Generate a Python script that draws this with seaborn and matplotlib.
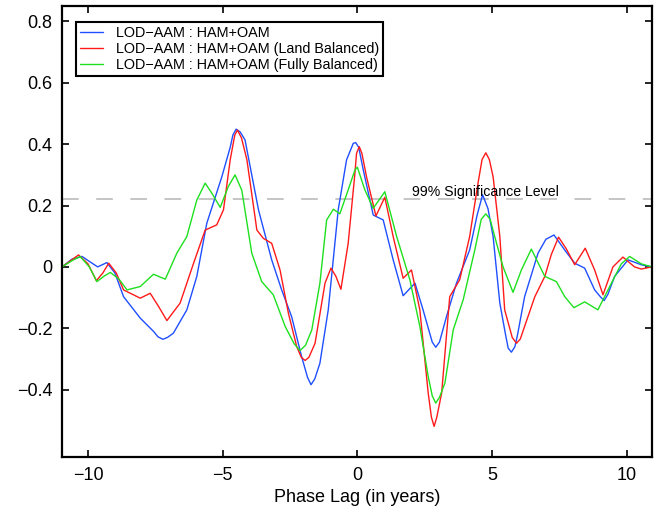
import numpy as np
import pandas as pd
import matplotlib
matplotlib.use('Agg')
import matplotlib.pyplot as plt
import seaborn as sns

blue_x = [-10.96, -10.6, -10.22, -9.9, -9.64, -9.30, -9.0, -8.68, -8.06, -7.57, -7.40, -7.22, -7.05,
          -6.83, -6.33, -5.96, -5.59, -5.03, -4.72, -4.62, -4.50, -4.35, -4.17, -3.67, -3.18, -2.81,
          -2.44, -2.07, -1.85, -1.72, -1.58, -1.39, -1.08, -0.71, -0.40, -0.15, -0.06, 0.05, 0.22,
          0.59, 0.96, 1.33, 1.70, 2.14, 2.44, 2.78, 2.91, 3.05, 3.31, 3.68, 4.17, 4.45, 4.65, 4.85,
          5.04, 5.29, 5.50, 5.60, 5.72, 5.85, 5.95, 6.21, 6.71, 7.0, 7.30, 7.70, 8.07, 8.44, 8.81,
          9.0, 9.16, 9.30, 9.55, 10.05, 10.54, 10.93]
blue_y = [0.0, 0.025, 0.034, 0.015, 0.0, 0.014, -0.02, -0.097, -0.167, -0.21, -0.228, -0.236, -0.23,
          -0.216, -0.14, -0.031, 0.142, 0.294, 0.39, 0.43, 0.449, 0.44, 0.414, 0.186, 0.023, -0.075,
          -0.162, -0.292, -0.36, -0.384, -0.365, -0.314, -0.14, 0.186, 0.349, 0.403, 0.405, 0.39, 0.316,
          0.169, 0.153, 0.023, -0.094, -0.053, -0.14, -0.245, -0.262, -0.245, -0.162, -0.053, 0.055, 0.17,
          0.235, 0.19, 0.099, -0.118, -0.22, -0.265, -0.278, -0.26, -0.22, -0.097, 0.045, 0.09, 0.104,
          0.055, 0.012, -0.004, -0.075, -0.095, -0.11, -0.09, -0.031, 0.023, 0.007, 0.0]

red_x = [-10.96, -10.65, -10.35, -10.0, -9.69, -9.45, -9.23, -8.95, -8.68, -8.06, -7.69, -7.38, -7.07,
         -6.58, -6.08, -5.65, -5.22, -4.97, -4.72, -4.55, -4.45, -4.30, -4.10, -3.73, -3.49, -3.18,
         -2.87, -2.56, -2.25, -2.08, -1.94, -1.80, -1.57, -1.20, -0.98, -0.80, -0.61, -0.34, -0.09,
         -0.03, 0.07, 0.17, 0.34, 0.69, 1.02, 1.33, 1.70, 2.01, 2.32, 2.63, 2.75, 2.85, 2.95, 3.13,
         3.43, 3.80, 4.17, 4.48, 4.63, 4.77, 4.90, 5.04, 5.29, 5.47, 5.75, 5.91, 6.05, 6.21, 6.59,
         6.96, 7.20, 7.47, 7.75, 8.07, 8.46, 8.81, 9.12, 9.49, 9.86, 10.29, 10.54, 10.93]
red_y = [0.0, 0.02, 0.039, 0.01, -0.045, -0.02, 0.012, -0.02, -0.075, -0.102, -0.086, -0.129, -0.175,
         -0.118, 0.012, 0.12, 0.137, 0.186, 0.349, 0.43, 0.446, 0.42, 0.349, 0.12, 0.093, 0.077,
         -0.01, -0.151, -0.26, -0.295, -0.305, -0.295, -0.249, -0.053, -0.004, -0.03, -0.073, 0.077, 0.305,
         0.37, 0.392, 0.37, 0.294, 0.166, 0.227, 0.099, -0.037, -0.01, -0.14, -0.411, -0.49, -0.52, -0.49,
         -0.411, -0.097, -0.042, 0.099, 0.273, 0.35, 0.372, 0.35, 0.294, 0.099, -0.14, -0.23, -0.249,
         -0.235, -0.194, -0.097, -0.031, 0.04, 0.097, 0.06, 0.007, 0.061, -0.01, -0.091, 0.0, 0.032,
         0.0, -0.007, 0.0]

green_x = [-10.96, -10.6, -10.29, -9.95, -9.67, -9.40, -9.17, -8.85, -8.55, -8.06, -7.57, -7.13,
           -6.70, -6.33, -5.96, -5.65, -5.40, -5.09, -4.79, -4.54, -4.29, -3.92, -3.55, -3.12, -2.68,
           -2.35, -2.13, -1.92, -1.69, -1.39, -1.14, -0.89, -0.65, -0.34, -0.09, 0.0, 0.28, 0.59, 1.02,
           1.46, 1.95, 2.32, 2.63, 2.78, 2.91, 3.05, 3.25, 3.56, 3.93, 4.36, 4.60, 4.77, 4.93, 5.10,
           5.41, 5.78, 6.09, 6.46, 6.96, 7.39, 7.70, 8.04, 8.44, 8.93, 9.37, 9.80, 10.11, 10.54, 10.93]
green_y = [0.0, 0.02, 0.034, 0.0, -0.048, -0.03, -0.018, -0.04, -0.075, -0.064, -0.024, -0.04,
           0.045, 0.099, 0.218, 0.273, 0.24, 0.194, 0.262, 0.30, 0.25, 0.045, -0.048, -0.091, -0.194,
           -0.25, -0.273, -0.255, -0.205, -0.053, 0.153, 0.188, 0.173, 0.251, 0.316, 0.325, 0.251, 0.191,
           0.245, 0.099, -0.042, -0.194, -0.357, -0.42, -0.444, -0.425, -0.379, -0.205, -0.107, 0.055,
           0.155, 0.173, 0.155, 0.099, 0.0, -0.083, -0.01, 0.058, -0.031, -0.048, -0.097, -0.133,
           -0.114, -0.14, -0.064, 0.01, 0.034, 0.01, 0.0]

labels = ['LOD\u2212AAM : HAM+OAM',
          'LOD\u2212AAM : HAM+OAM (Land Balanced)',
          'LOD\u2212AAM : HAM+OAM (Fully Balanced)']
colors = ['#1f4fff', '#ff1a1a', '#1ee01e']
sig_level = 0.22

sns.set_style('ticks', {'axes.edgecolor': 'black', 'text.color': 'black',
                        'xtick.color': 'black', 'ytick.color': 'black'})
plt.rcParams['font.family'] = ['Liberation Sans', 'DejaVu Sans']

fig = plt.figure(figsize=(6.61, 5.13), dpi=100)
ax = fig.add_axes([0.094, 0.109, 0.892, 0.879])

for xs, ys, lab, col in zip([blue_x, red_x, green_x], [blue_y, red_y, green_y], labels, colors):
    df = pd.DataFrame({'lag': xs, 'corr': ys})
    sns.lineplot(data=df, x='lag', y='corr', ax=ax, color=col, lw=1.0, label=lab, sort=False)

# garis tingkat signifikansi
ax.axhline(sig_level, color='#bbbbbb', lw=1.2, linestyle=(0, (10, 10.5)), zorder=0)
ax.text(2.02, sig_level + 0.011, '99% Significance Level', fontsize=10.2, va='baseline', ha='left')

ax.set_xlim(-10.96, 10.93)
ax.set_ylim(-0.62, 0.85)
ax.set_xticks([-10, -5, 0, 5, 10])
ax.set_xticklabels(['\u221210', '\u22125', '0', '5', '10'])
ax.set_yticks([-0.4, -0.2, 0, 0.2, 0.4, 0.6, 0.8])
ax.set_yticklabels(['\u22120.4', '\u22120.2', '0', '0.2', '0.4', '0.6', '0.8'])
ax.tick_params(direction='in', length=5, width=1.2, labelsize=13, top=True, right=True, pad=7,
               colors='black')
for s in ax.spines.values():
    s.set_linewidth(1.6)
    s.set_color('black')
ax.set_xlabel('Phase Lag (in years)', fontsize=13, labelpad=4, color='black')
ax.set_ylabel('')

leg = ax.legend(loc='upper left', fontsize=10.4, frameon=True, fancybox=False,
                borderpad=0.28, handlelength=1.63, handletextpad=0.88, labelspacing=0.12,
                borderaxespad=0, bbox_to_anchor=(0.0232, 0.9645))
leg.get_frame().set_edgecolor('black')
leg.get_frame().set_linewidth(1.5)
leg.get_frame().set_alpha(1)

fig.savefig('out.png', dpi=100)
